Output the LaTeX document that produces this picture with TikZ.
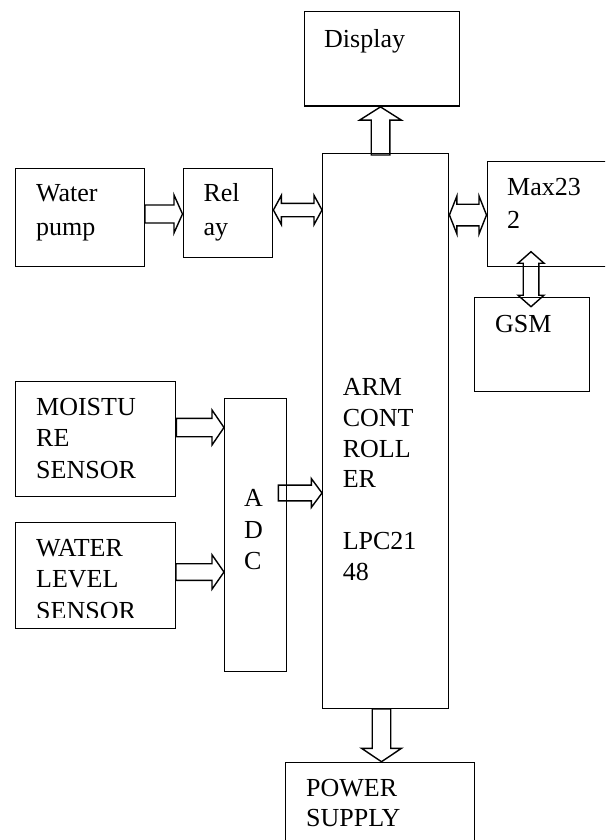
\documentclass[tikz,border=0pt]{standalone}
\usepackage{fontspec}
\setmainfont{Liberation Serif}
\usetikzlibrary{calc}

% hollow block arrows: tail, tip, shaft half width, head half width, head length
\newcommand{\BlockArrow}[5]{%
   \coordinate (hb) at ($(#2)!#5pt!(#1)$);
   \draw[hollow] ($(#1)!#3pt!90:(#2)$) -- ($(hb)!#3pt!90:(#2)$) -- ($(hb)!#4pt!90:(#2)$)
      -- (#2) -- ($(hb)!#4pt!-90:(#2)$) -- ($(hb)!#3pt!-90:(#2)$) -- ($(#1)!#3pt!-90:(#2)$) -- cycle;}
\newcommand{\BlockDArrow}[5]{%
   \coordinate (hba) at ($(#1)!#5pt!(#2)$);
   \coordinate (hbb) at ($(#2)!#5pt!(#1)$);
   \draw[hollow] (#1) -- ($(hba)!#4pt!90:(#2)$) -- ($(hba)!#3pt!90:(#2)$) -- ($(hbb)!#3pt!90:(#2)$)
      -- ($(hbb)!#4pt!90:(#2)$) -- (#2) -- ($(hbb)!#4pt!-90:(#2)$) -- ($(hbb)!#3pt!-90:(#2)$)
      -- ($(hba)!#3pt!-90:(#2)$) -- ($(hba)!#4pt!-90:(#2)$) -- cycle;}

\begin{document}
\begin{tikzpicture}[x=1pt,y=-1pt,
   blok/.style = {draw, rectangle, line width=1.4pt, inner sep=0pt, anchor=north west},
   txt/.style = {anchor=base west, inner sep=0pt, align=left, font=\fontsize{26}{31}\selectfont},
   hollow/.style = {draw, line width=1.4pt, line join=miter}]
\useasboundingbox (0,0) rectangle (605,840);
\clip (0,0) rectangle (605,840);

   % boxes
   \node[blok, minimum width=154.5pt, minimum height=94.5pt] (disp) at (304,11) {};
   \node[blok, minimum width=126pt, minimum height=555pt] (arm) at (322,152.5) {};
   \node[blok, minimum width=129pt, minimum height=98pt] (pump) at (14.5,168) {};
   \node[blok, minimum width=89.5pt, minimum height=89pt] (relay) at (182.5,168) {};
   \node[blok, minimum width=130pt, minimum height=104.5pt] (max) at (486.5,161) {};
   \node[blok, minimum width=115.5pt, minimum height=94.3pt] (gsm) at (473.5,296.7) {};
   \node[blok, minimum width=160.5pt, minimum height=115pt] (moist) at (14.5,381) {};
   \node[blok, minimum width=160pt, minimum height=105.8pt] (level) at (14.5,521.7) {};
   \node[blok, minimum width=62pt, minimum height=273pt] (adc) at (224,397.7) {};
   \node[blok, minimum width=188.5pt, minimum height=100pt] (power) at (285,761.7) {};

   % texts (placed at the baseline of their last line)
   \node[txt] (tdisp) at (324,48) {Display};
   \node[txt, font=\fontsize{26}{33.3}\selectfont] (tpump) at (36,235) {Water\\pump};
   \node[txt, font=\fontsize{26}{33.3}\selectfont] (trelay) at (203.3,235) {Rel\\ay};
   \node[txt, font=\fontsize{26}{33.7}\selectfont] (tmax) at (507,228.7) {Max23\\2};
   \node[txt] (tgsm) at (495,332.3) {GSM};
   \node[txt, font=\fontsize{26}{31.7}\selectfont] (tmoist) at (36,478.4) {MOISTU\\RE\\SENSOR};
   \begin{scope}
   \clip (14,521) rectangle (175,617);
   \node[txt, font=\fontsize{26}{31.5}\selectfont] (tlevel) at (36,619) {WATER\\LEVEL\\SENSOR};
   \end{scope}
   \node[txt, font=\fontsize{26}{31.3}\selectfont] (tadc) at (243.8,569.3) {A\\D\\C};
   \node[txt, font=\fontsize{26}{30.7}\selectfont] (tarm) at (342.6,580) {ARM\\CONT\\ROLL\\ER\\[30.7pt]LPC21\\48};
   \node[txt, font=\fontsize{26}{29.5}\selectfont] (tpower) at (306,826.2) {POWER\\SUPPLY};

   % arrow ends
   \coordinate (pumpR) at (pump.east |- 0,214);
   \coordinate (relayL) at (relay.west |- 0,214);
   \coordinate (relayR) at (relay.east |- 0,210);
   \coordinate (armL) at (arm.west |- 0,210);
   \coordinate (armR) at (arm.east |- 0,215);
   \coordinate (maxL) at (max.west |- 0,215);
   \coordinate (maxB) at (531,251.7);
   \coordinate (gsmT) at (531,306.7);
   \coordinate (armT) at (380.5,155);
   \coordinate (dispB) at (disp.south -| 380.5,0);
   \coordinate (armB) at (arm.south -| 381.5,0);
   \coordinate (powerT) at (power.north -| 381.5,0);
   \coordinate (moistR) at (moist.east |- 0,427.5);
   \coordinate (adcLa) at (adc.west |- 0,427.5);
   \coordinate (levelR) at (level.east |- 0,572);
   \coordinate (adcLb) at (adc.west |- 0,572);
   \coordinate (adcR) at (278.3,493);
   \coordinate (armLb) at (arm.west |- 0,493);

   % arrows
   \BlockArrow{pumpR}{relayL}{9}{19}{8.5}
   \BlockDArrow{relayR}{armL}{6.7}{14.7}{8}
   \BlockDArrow{armR}{maxL}{10.8}{19}{7.5}
   \BlockDArrow{maxB}{gsmT}{7.8}{13}{11.5}
   \BlockArrow{armT}{dispB}{9.3}{21}{13.3}
   \BlockArrow{armB}{powerT}{9.25}{20}{13.4}
   \BlockArrow{moistR}{adcLa}{9.2}{17.5}{12}
   \BlockArrow{levelR}{adcLb}{8.3}{17.2}{12}
   \BlockArrow{adcR}{armLb}{7.9}{14.5}{10.7}

\end{tikzpicture}
\end{document}
